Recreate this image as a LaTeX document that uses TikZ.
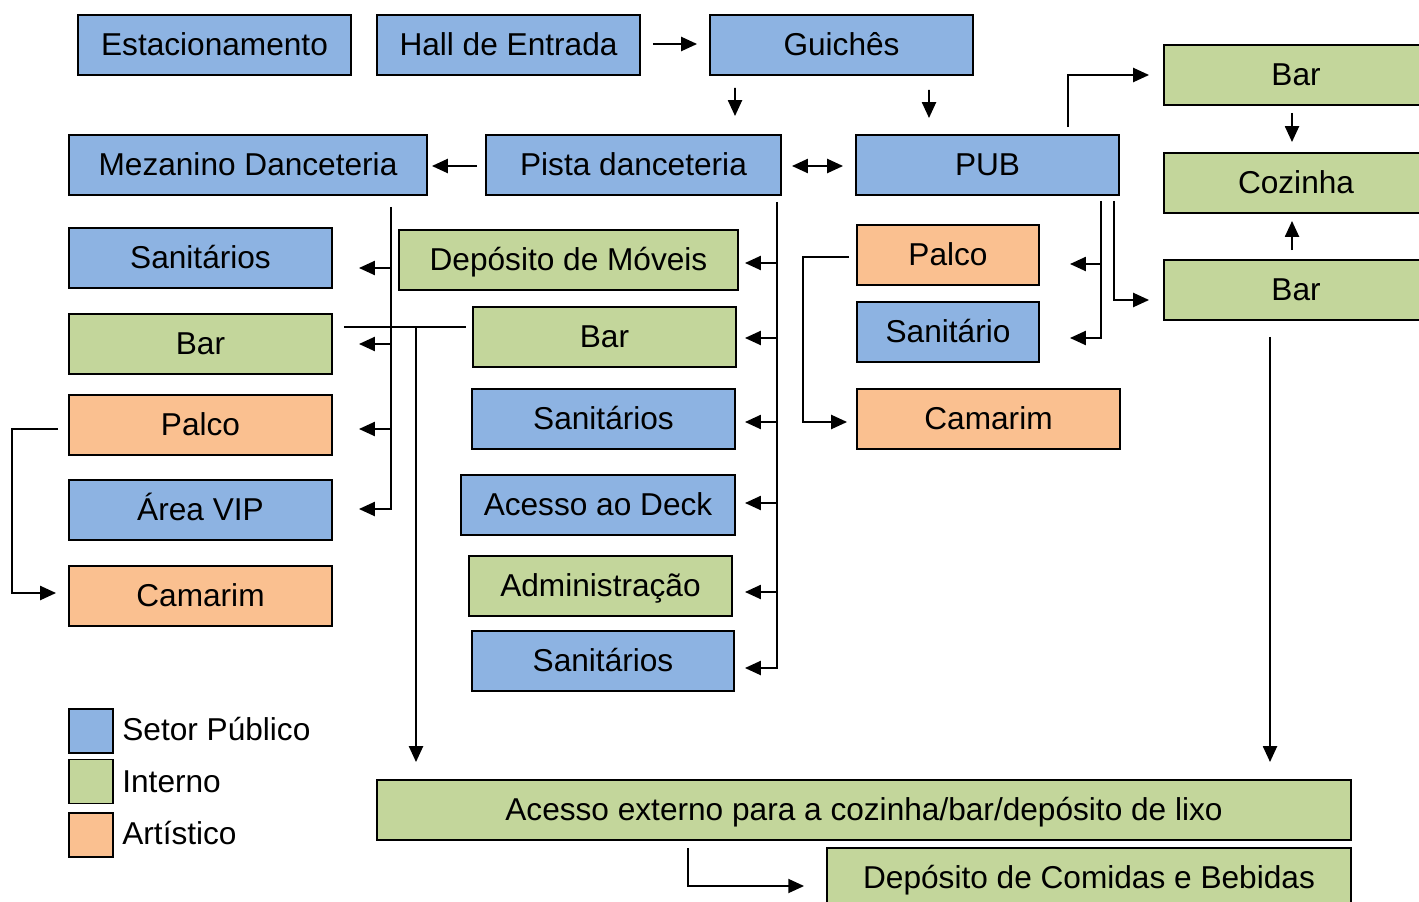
\documentclass[tikz,border=0pt]{standalone}
\usepackage{fontspec}
\setmainfont{Liberation Sans}
\usetikzlibrary{arrows.meta,calc,positioning}
\definecolor{publico}{HTML}{8DB3E2}
\definecolor{interno}{HTML}{C3D69B}
\definecolor{artistico}{HTML}{FAC090}

\begin{document}
\begin{tikzpicture}[x=0.02cm,y=-0.02cm,>={Triangle[length=9pt,width=8pt]},
  font=\fontsize{18}{21}\selectfont,
  box/.style={draw=black,line width=1pt,minimum height=1.2cm,inner sep=0pt,outer sep=0pt,
    text height=13pt,text depth=1pt},
  setorpub/.style={box,fill=publico},
  setorint/.style={box,fill=interno},
  setorart/.style={box,fill=artistico},
  arr/.style={->,line width=1pt},
  link/.style={line width=1pt}]
  \useasboundingbox (0,0) rectangle (1419,902);

  % top row
  \node[setorpub,minimum width=5.46cm] (est) at (214.5,45) {Estacionamento};
  \node[setorpub,minimum width=5.26cm] (hall) at (508.5,45) {Hall de Entrada};
  \node[setorpub,minimum width=5.26cm] (guiche) at (841.5,45) {Guichês};
  \node[setorint,minimum width=5.28cm] (barA) at (1296,75) {Bar};
  \node[setorint,minimum width=5.28cm] (cozinha) at (1296,183) {Cozinha};
  \node[setorint,minimum width=5.28cm] (barB) at (1296,290) {Bar};

  % second row
  \node[setorpub,minimum width=7.16cm] (mezanino) at (248,165) {Mezanino Danceteria};
  \node[setorpub,minimum width=5.90cm] (pista) at (633.5,165) {Pista danceteria};
  \node[setorpub,minimum width=5.26cm] (pub) at (987.5,165) {PUB};

  % mezanino column
  \node[setorpub,minimum width=5.26cm] (sanL) at (200.5,258) {Sanitários};
  \node[setorint,minimum width=5.26cm] (barL) at (200.5,344) {Bar};
  \node[setorart,minimum width=5.26cm] (palcoL) at (200.5,425) {Palco};
  \node[setorpub,minimum width=5.26cm] (vip) at (200.5,510) {Área VIP};
  \node[setorart,minimum width=5.26cm] (camL) at (200.5,596) {Camarim};

  % pista column
  \node[setorint,minimum width=6.78cm] (deposito) at (568.5,260) {Depósito de Móveis};
  \node[setorint,minimum width=5.26cm] (barM) at (604.5,337) {Bar};
  \node[setorpub,minimum width=5.26cm] (sanM1) at (603.5,419) {Sanitários};
  \node[setorpub,minimum width=5.48cm] (deck) at (598,505) {Acesso ao Deck};
  \node[setorint,minimum width=5.26cm] (adm) at (600.5,586) {Administração};
  \node[setorpub,minimum width=5.24cm] (sanM2) at (603,661) {Sanitários};

  % pub column
  \node[setorart,minimum width=3.64cm] (palcoP) at (948,255) {Palco};
  \node[setorpub,minimum width=3.64cm] (sanP) at (948,332) {Sanitário};
  \node[setorart,minimum width=5.26cm] (camP) at (988.5,419) {Camarim};

  % bottom
  \node[setorint,minimum width=19.48cm] (externo) at (864,810) {Acesso externo para a cozinha/bar/depósito de lixo};
  \node[setorint,minimum width=10.48cm] (comidas) at (1089,878) {Depósito de Comidas e Bebidas};

  % legend
  \node[setorpub,minimum width=0.88cm,minimum height=0.88cm] (legpub) at (91,731) {};
  \node[setorint,minimum width=0.88cm,minimum height=0.88cm] (legint) at (91,781.5) {};
  \node[setorart,minimum width=0.88cm,minimum height=0.88cm] (legart) at (91,835) {};
  \node[right=0.18cm of legpub,inner sep=0pt,yshift=1pt] (txtpub) {Setor Público};
  \node[right=0.18cm of legint,inner sep=0pt] (txtint) {Interno};
  \node[right=0.18cm of legart,inner sep=0pt,yshift=1pt] (txtart) {Artístico};

  % entrance flow
  \draw[arr] ($(hall.east)+(13,-1)$) -- ($(guiche.west)+(-13,-1)$);
  \draw[arr] ($(guiche.south)+(-106.5,13)$) -- ($(pista.north)+(101.5,-19)$);
  \draw[arr] ($(guiche.south)+(87.5,15)$) -- ($(pub.north)+(-58.5,-17)$);
  \draw[arr] ($(pista.west)+(-9,1)$) -- ($(mezanino.east)+(5,1)$);
  \draw[<->,line width=1pt] ($(pista.east)+(11,1)$) -- ($(pub.west)+(-13,1)$);

  % mezanino branches
  \coordinate (mzspine) at ($(mezanino.south)+(143,12)$);
  \draw[arr] (mzspine) |- ($(vip.east)+(27,-1)$);
  \draw[arr] ($(mzspine |- sanL.east)+(0,10)$) -- ++(-32,0);
  \draw[arr] (mzspine |- barL.east) -- ++(-32,0);
  \draw[arr] ($(mzspine |- palcoL.east)+(0,4)$) -- ++(-32,0);

  % pista branches
  \coordinate (pstspine) at ($(pista.south)+(143.5,7)$);
  \draw[arr] (pstspine) |- ($(sanM2.east)+(11,7)$);
  \draw[arr] ($(pstspine |- deposito.east)+(0,3)$) -- ++(-32,0);
  \draw[arr] ($(pstspine |- barM.east)+(0,1)$) -- ++(-32,0);
  \draw[arr] ($(pstspine |- sanM1.east)+(0,3)$) -- ++(-32,0);
  \draw[arr] ($(pstspine |- deck.east)+(0,-2)$) -- ++(-32,0);
  \draw[arr] ($(pstspine |- adm.east)+(0,6)$) -- ++(-32,0);

  % pub branches
  \coordinate (pubspine) at ($(pub.south)+(113.5,6)$);
  \draw[arr] (pubspine) |- ($(sanP.east)+(31,6)$);
  \draw[arr] ($(pubspine |- palcoP.east)+(0,9)$) -- ++(-31,0);
  \draw[arr] ($(pub.south)+(126.5,6)$) |- ($(barB.west)+(-15,10)$);
  \draw[arr] ($(pub.north)+(80.5,-8)$) |- ($(barA.west)+(-15,0)$);

  % kitchen
  \draw[arr] ($(barA.south)+(-4,8)$) -- ($(cozinha.north)+(-4,-11)$);
  \draw[arr] ($(barB.north)+(-4,-10)$) -- ($(cozinha.south)+(-4,8)$);
  \draw[arr] ($(barB.south)+(-26,17)$) -- ($(externo.north)+(406,-18)$);

  % bars to external access
  \draw[link] ($(barL.east)+(12,-17)$) -- ($(barM.west)+(-7,-10)$);
  \draw[arr] ($(barL.east)+(84,-17)$) -- ($(externo.north)+(-448,-18)$);

  % stages to dressing rooms
  \draw[arr] ($(palcoP.west)+(-8,2)$) -- ++(-46,0) |- ($(camP.west)+(-10,3)$);
  \draw[arr] ($(palcoL.west)+(-11,4)$) -- ++(-46,0) |- ($(camL.west)+(-13,-3)$);
  \draw[arr] ($(externo.south)+(-176,8)$) |- ($(comidas.west)+(-23,8)$);
\end{tikzpicture}
\end{document}
